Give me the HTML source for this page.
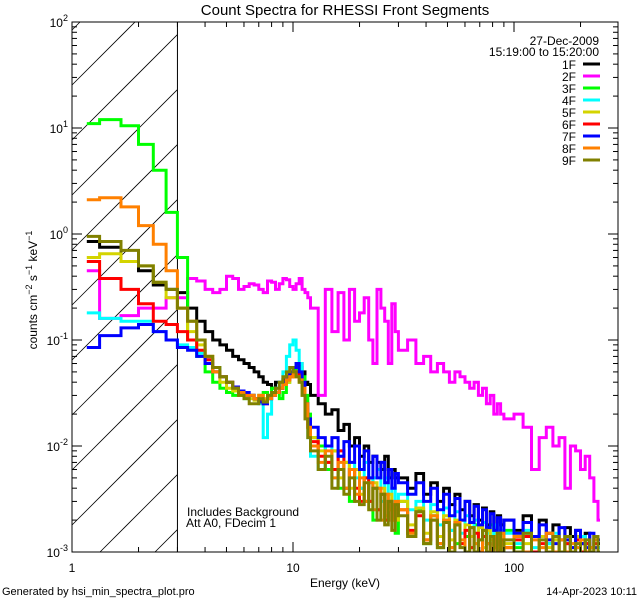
<!DOCTYPE html>
<html><head><meta charset="utf-8"><style>
html,body{margin:0;padding:0;background:#fff;overflow:hidden;width:640px;height:600px;}
svg{display:block;font-family:"Liberation Sans",sans-serif;}
</style></head><body>
<svg id="chart" width="640" height="600" viewBox="0 0 640 600" xmlns="http://www.w3.org/2000/svg">
<rect x="0" y="0" width="640" height="600" fill="#fff"/>
<text x="345" y="15" font-size="15" text-anchor="middle">Count Spectra for RHESSI Front Segments</text>
<defs><clipPath id="pc"><rect x="72" y="22" width="546" height="530"/></clipPath></defs>
<g id="hatch"></g>
<g id="series" clip-path="url(#pc)"></g>
<g id="axes"></g>
<text x="345" y="587" font-size="12" text-anchor="middle">Energy (keV)</text>
<text transform="translate(37,290) rotate(-90)" font-size="12" text-anchor="middle">counts cm<tspan dy="-5" font-size="9">−2</tspan><tspan dy="5"> s</tspan><tspan dy="-5" font-size="9">−1</tspan><tspan dy="5"> keV</tspan><tspan dy="-5" font-size="9">−1</tspan></text>
<text x="187" y="516" font-size="12">Includes Background</text>
<text x="186" y="527" font-size="12">Att A0, FDecim 1</text>
<text x="599" y="45" font-size="12" text-anchor="end">27-Dec-2009</text>
<text x="599" y="56" font-size="12" text-anchor="end">15:19:00 to 15:20:00</text>
<g id="legend"></g>
<text x="2" y="595" font-size="11">Generated by hsi_min_spectra_plot.pro</text>
<text x="637" y="595" font-size="11" text-anchor="end">14-Apr-2023 10:11</text>
</svg>
<script>
const names=["1F","2F","3F","4F","5F","6F","7F","8F","9F"];
const colors=["#000000","#ff00ff","#00ff00","#00ffff","#d4d400","#ff0000","#0000ff","#ff8000","#808000"];
// bin edges (keV): 1/3 keV to 12, 1 keV to 30, 3 keV to 90, 10 keV to 250
const segEdges=[[1,12,1/3],[12,30,1],[30,90,3],[90,250,10]];
const s1F=[0.85,0.75,0.55,0.45,0.33,0.3,0.28,0.2,0.15,0.12,0.1,0.09,0.08,0.07,0.065,0.06,0.055,0.05,0.045,0.04,0.038,0.035,0.04,0.04,0.042,0.045,0.048,0.05,0.055,0.06,0.05,0.04,0.038,
0.03,0.025,0.02,0.022,0.014,0.016,0.01,0.012,0.008,0.01,0.007,0.008,0.007,0.006,0.008,0.005,0.006,0.005,
0.005,0.004,0.0055,0.0035,0.0045,0.003,0.004,0.0028,0.0035,0.0025,0.003,0.0022,0.0028,0.002,0.0026,0.0018,0.0024,0.0016,0.0022,0.0018,
0.002,0.0016,0.0022,0.0014,0.002,0.0015,0.0018,0.0013,0.0017,0.0014,0.0016,0.0012,0.0015,0.0011,0.0014,0.0012];
const s2F=[0.45,0.16,0.17,0.2,0.2,0.25,0.25,0.38,0.36,0.3,0.28,0.3,0.4,0.38,0.3,0.32,0.34,0.33,0.3,0.28,0.36,0.35,0.3,0.34,0.38,0.37,0.32,0.3,0.34,0.38,0.3,0.28,0.25,
0.2,0.03,0.3,0.12,0.28,0.1,0.3,0.15,0.18,0.25,0.1,0.06,0.3,0.2,0.15,0.06,0.22,0.12,
0.08,0.1,0.06,0.07,0.05,0.06,0.05,0.04,0.05,0.045,0.04,0.035,0.04,0.03,0.035,0.025,0.03,0.02,0.025,0.02,
0.018,0.02,0.015,0.006,0.012,0.015,0.01,0.012,0.004,0.01,0.009,0.006,0.008,0.005,0.003,0.002];
const s3F=[11,12,10.5,7,4,1.6,0.6,0.1,0.07,0.05,0.04,0.035,0.032,0.03,0.03,0.028,0.03,0.028,0.03,0.032,0.03,0.035,0.032,0.028,0.032,0.04,0.045,0.05,0.06,0.055,0.045,0.03,0.02,
0.012,0.01,0.006,0.009,0.004,0.007,0.003,0.006,0.004,0.003,0.005,0.002,0.004,0.0035,0.002,0.003,0.0025,0.0015,
0.003,0.0015,0.0025,0.0012,0.0022,0.0011,0.002,0.0016,0.0012,0.002,0.0014,0.0011,0.0018,0.001,0.0016,0.0012,0.0018,0.0011,0.0015,0.001,
0.0016,0.0011,0.0015,0.001,0.0014,0.0012,0.0013,0.001,0.0014,0.0011,0.0013,0.001,0.0012,0.001,0.0013,0.0011];
const s4F=[0.18,0.16,0.15,0.15,0.12,0.1,0.09,0.085,0.075,0.065,0.055,0.045,0.04,0.035,0.032,0.03,0.03,0.028,0.025,0.012,0.02,0.03,0.035,0.04,0.05,0.07,0.09,0.1,0.08,0.06,0.04,0.02,0.012,
0.008,0.006,0.01,0.005,0.008,0.004,0.007,0.005,0.004,0.007,0.003,0.005,0.006,0.003,0.005,0.003,0.004,0.0028,
0.0035,0.0025,0.003,0.002,0.0028,0.0018,0.0026,0.0016,0.0024,0.0015,0.0022,0.0014,0.002,0.0013,0.0019,0.0015,0.0013,0.0018,0.0012,0.0016,
0.0015,0.0012,0.0016,0.0011,0.0014,0.0012,0.0015,0.001,0.0014,0.0012,0.0011,0.0014,0.0012,0.001,0.0013,0.0011];
const s5F=[0.6,0.65,0.55,0.5,0.35,0.25,0.2,0.12,0.09,0.07,0.05,0.04,0.035,0.033,0.03,0.03,0.028,0.027,0.03,0.028,0.03,0.03,0.032,0.035,0.038,0.04,0.045,0.05,0.045,0.04,0.03,0.02,0.015,
0.012,0.009,0.007,0.009,0.005,0.007,0.004,0.006,0.0035,0.005,0.003,0.0045,0.0025,0.004,0.0022,0.0035,0.0025,0.002,
0.003,0.0018,0.0026,0.0015,0.0024,0.0014,0.0022,0.0013,0.002,0.0012,0.0018,0.0014,0.0012,0.0017,0.0011,0.0016,0.0013,0.0011,0.0015,0.0012,
0.0012,0.0015,0.0012,0.001,0.0014,0.0011,0.0013,0.001,0.0012,0.0011,0.0014,0.001,0.0012,0.0011,0.0013,0.001];
const s6F=[0.55,0.38,0.3,0.22,0.15,0.14,0.12,0.1,0.08,0.065,0.05,0.045,0.04,0.036,0.033,0.03,0.03,0.028,0.027,0.025,0.028,0.03,0.032,0.035,0.04,0.042,0.045,0.048,0.05,0.045,0.035,0.022,0.015,
0.011,0.008,0.007,0.006,0.009,0.004,0.006,0.004,0.003,0.005,0.003,0.004,0.0025,0.0035,0.002,0.003,0.002,0.0028,
0.0025,0.0016,0.0022,0.0013,0.002,0.0012,0.0019,0.0011,0.0018,0.0012,0.0016,0.0011,0.0015,0.001,0.0014,0.0012,0.001,0.0014,0.001,0.0013,
0.0011,0.0013,0.0014,0.001,0.0012,0.001,0.0014,0.001,0.0012,0.001,0.0013,0.001,0.0012,0.001,0.0012,0.001];
const s7F=[0.085,0.11,0.13,0.14,0.12,0.1,0.085,0.08,0.07,0.06,0.05,0.045,0.04,0.036,0.033,0.032,0.03,0.028,0.026,0.025,0.028,0.03,0.032,0.035,0.04,0.045,0.05,0.055,0.06,0.05,0.04,0.025,0.018,
0.015,0.012,0.01,0.012,0.008,0.011,0.007,0.01,0.006,0.009,0.005,0.008,0.005,0.007,0.0045,0.006,0.004,0.0055,
0.0045,0.0035,0.0045,0.003,0.004,0.0025,0.0035,0.0022,0.0032,0.002,0.003,0.0019,0.0027,0.0018,0.0025,0.0017,0.0023,0.0016,0.0021,0.0015,
0.002,0.0015,0.0019,0.0014,0.0018,0.0013,0.0012,0.0017,0.0013,0.0011,0.0016,0.0012,0.0011,0.0015,0.0011,0.0013];
const s8F=[2.1,2.2,1.8,1.2,0.8,0.45,0.2,0.15,0.1,0.07,0.05,0.045,0.04,0.035,0.032,0.03,0.03,0.028,0.03,0.027,0.028,0.03,0.032,0.035,0.038,0.042,0.045,0.05,0.045,0.042,0.035,0.025,0.015,
0.01,0.007,0.009,0.005,0.007,0.004,0.006,0.0035,0.005,0.003,0.0045,0.0025,0.004,0.002,0.0035,0.0025,0.002,0.003,
0.0025,0.0015,0.0024,0.0013,0.0022,0.0012,0.002,0.0011,0.0019,0.0013,0.001,0.0017,0.0012,0.001,0.0016,0.0012,0.0009,0.0014,0.0011,0.0015,
0.0011,0.0014,0.001,0.0013,0.0011,0.0015,0.001,0.0013,0.001,0.0012,0.0011,0.0013,0.001,0.0011,0.0013,0.001];
const s9F=[0.95,0.85,0.7,0.5,0.35,0.3,0.2,0.15,0.1,0.07,0.055,0.045,0.04,0.035,0.03,0.028,0.025,0.025,0.028,0.026,0.03,0.032,0.035,0.04,0.045,0.05,0.055,0.05,0.045,0.04,0.03,0.018,0.012,
0.009,0.006,0.008,0.004,0.006,0.0035,0.005,0.003,0.0028,0.0045,0.0025,0.004,0.002,0.0035,0.0018,0.003,0.0016,0.0028,
0.0022,0.0014,0.0024,0.0012,0.002,0.0011,0.0019,0.001,0.0018,0.0011,0.001,0.0017,0.001,0.0013,0.0016,0.001,0.0014,0.0009,0.0015,0.001,
0.0013,0.001,0.0015,0.0009,0.0013,0.001,0.0014,0.001,0.0014,0.001,0.0012,0.0009,0.0013,0.001,0.0014,0.001];
const seriesData=[s1F,s2F,s3F,s4F,s5F,s6F,s7F,s8F,s9F];
const xTickLabels=["1","10","100"];
const yTickExps=[-3,-2,-1,0,1,2];

const X0=72,X1=618,Y0=22,Y1=552,DX=221,DY=106;
const xs=e=>X0+Math.log10(e)*DX;
const ys=v=>Y0+(2-Math.log10(v))*DY;
const NS="http://www.w3.org/2000/svg";
function mk(t,a,p){const e=document.createElementNS(NS,t);for(const k in a)e.setAttribute(k,a[k]);p.appendChild(e);return e;}
const edges=[];
segEdges.forEach((s,si)=>{const n=Math.round((s[1]-s[0])/s[2]);for(let i=(si===0?0:1);i<=n;i++)edges.push(s[0]+i*s[2]);});

// hatch (lines clipped analytically to the region 1-3 keV)
const hg=document.getElementById('hatch');
const HX1=xs(3);
for(let k=-12;k<12;k++){const yb=85+55*k;
 const xa=Math.max(X0,X0+yb-Y1), xb=Math.min(HX1,X0+yb-Y0);
 if(xb<=xa)continue;
 const l=mk('line',{x1:xa,y1:yb-(xa-X0),x2:xb,y2:yb-(xb-X0),stroke:'#000','stroke-width':0.8},hg);
 }
const vl=mk('line',{x1:HX1,y1:Y0,x2:HX1,y2:Y1,stroke:'#000','stroke-width':1},hg);


// series
const sg=document.getElementById('series');
seriesData.forEach((arr,si)=>{
  let d='';const clampY=v=>Math.min(ys(Math.max(v,0.0008)),Y1+2);
  for(let i=0;i<arr.length;i++){
    const xa=(i===0)?xs((edges[0]+edges[1])/2):xs(edges[i]);
    const xb=(i===arr.length-1)?xs((edges[i]+edges[i+1])/2):xs(edges[i+1]);
    const y=clampY(arr[i]);
    d+=(i===0?'M':'L')+xa.toFixed(1)+','+y.toFixed(1)+'L'+xb.toFixed(1)+','+y.toFixed(1);
  }
  const p=mk('path',{d:d,fill:'none',stroke:colors[si],'stroke-width':3,'stroke-linejoin':'miter'},sg);
  
  
});

// axes
const ag=document.getElementById('axes');
const fr=mk('rect',{x:X0,y:Y0,width:X1-X0,height:Y1-Y0,fill:'none',stroke:'#000','stroke-width':1},ag);

for(let dec=0;dec<3;dec++){for(let m=1;m<10;m++){const e=m*Math.pow(10,dec);const x=xs(e);if(x>X1)continue;const L=m===1?10:5;
 mk('line',{x1:x,y1:Y1,x2:x,y2:Y1-L,stroke:'#000'},ag);mk('line',{x1:x,y1:Y0,x2:x,y2:Y0+L,stroke:'#000'},ag);}}
xTickLabels.forEach((t,i)=>{const tx=mk('text',{x:xs(Math.pow(10,i)),y:572,'font-size':12,'text-anchor':'middle'},ag);tx.textContent=t;
 });
yTickExps.forEach(p=>{for(let m=1;m<10;m++){if(p===2&&m>1)break;const y=ys(m*Math.pow(10,p));const L=m===1?10:5;
 mk('line',{x1:X0,y1:y,x2:X0+L,y2:y,stroke:'#000'},ag);mk('line',{x1:X1,y1:y,x2:X1-L,y2:y,stroke:'#000'},ag);}
 const t=mk('text',{x:68,y:ys(Math.pow(10,p))+5,'font-size':12,'text-anchor':'end'},ag);
 
 t.innerHTML='10<tspan dy="-6" font-size="9">'+p+'</tspan>';});

// legend
const lg=document.getElementById('legend');
names.forEach((n,i)=>{const y=64+12*i;
 const t=mk('text',{x:576,y:y+5,'font-size':12,'text-anchor':'end'},lg);t.textContent=n;
 
 const l=mk('line',{x1:583,y1:y,x2:600,y2:y,stroke:colors[i],'stroke-width':3},lg);
 });
</script>
</body></html>
